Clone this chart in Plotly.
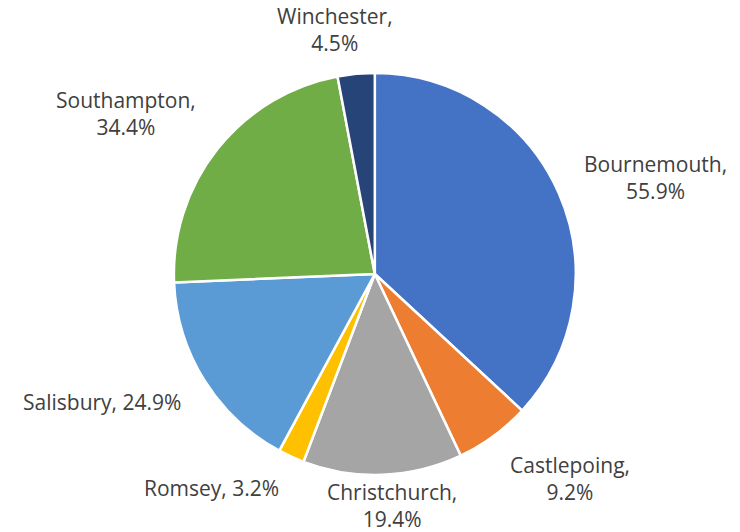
import math
import plotly.graph_objects as go

# Share of respondents by location (clockwise from 12 o'clock)
towns = ["Bournemouth", "Castlepoing", "Christchurch", "Romsey",
         "Salisbury", "Southampton", "Winchester"]
shares = [55.9, 9.2, 19.4, 3.2, 24.9, 34.4, 4.5]
# label line-break after the comma for most towns
separators = [",<br>", ",<br>", ",<br>", ", ", ", ", ",<br>", ",<br>"]
colors = ["#4472C4", "#ED7D31", "#A5A5A5", "#FFC000",
          "#5B9BD5", "#70AD47", "#264478"]

W, H = 740, 532
dom_x = [0.235, 0.778]
dom_y = [0.107, 0.863]
FONT_SIZE = 21
LINE_H = 27

fig = go.Figure(go.Pie(
    labels=towns,
    values=shares,
    textinfo="none",
    sort=False,
    direction="clockwise",
    rotation=0,
    marker=dict(colors=colors, line=dict(color="white", width=2.5)),
    domain=dict(x=dom_x, y=dom_y),
    showlegend=False,
    hoverinfo="label+value",
))

# Data labels placed just outside each slice, at the slice's mid-angle
cx = (dom_x[0] + dom_x[1]) / 2 * W
cy = (dom_y[0] + dom_y[1]) / 2 * H          # measured from the bottom
radius = min((dom_x[1] - dom_x[0]) * W, (dom_y[1] - dom_y[0]) * H) / 2
label_r = radius * 1.125
total = sum(shares)
cum = 0.0
for town, sep, val in zip(towns, separators, shares):
    mid = (cum + val / 2) / total * 2 * math.pi
    cum += val
    sx, cs = math.sin(mid), math.cos(mid)
    px = cx + label_r * sx
    py = cy + label_r * cs
    xanchor = "left" if sx > 0.3 else ("right" if sx < -0.3 else "center")
    yanchor = "bottom" if cs > 0.6 else ("top" if cs < -0.6 else "middle")
    xshift = sx * 200 if xanchor == "center" else 0
    if yanchor == "bottom":
        yshift = -10
    elif yanchor == "middle":
        yshift = cs * 15
    else:
        yshift = 7
        # keep the whole label block inside the canvas
        n_lines = sep.count("<br>") + 1
        py = max(py, n_lines * LINE_H + 2 - yshift)
    fig.add_annotation(
        x=px / W, y=py / H, xref="paper", yref="paper",
        text=f"{town}{sep}{val}%",
        showarrow=False, xanchor=xanchor, yanchor=yanchor, align="center",
        xshift=xshift, yshift=yshift,
        font=dict(family="Open Sans", size=FONT_SIZE, color="#404040"),
    )

fig.update_layout(
    width=W, height=H,
    margin=dict(l=0, r=0, t=0, b=0),
    paper_bgcolor="white",
    plot_bgcolor="white",
)

fig.write_html("out.html")
